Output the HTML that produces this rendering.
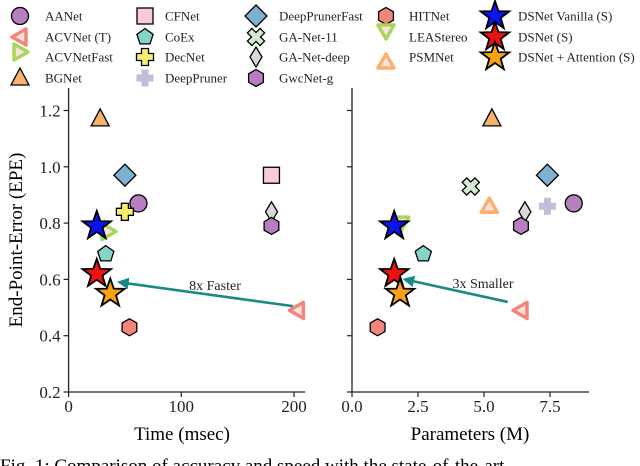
<!DOCTYPE html>
<html><head><meta charset="utf-8"><style>
html,body{margin:0;padding:0;background:#fff;width:640px;height:466px;overflow:hidden}
svg{display:block;font-family:"Liberation Serif","Times New Roman",Times,serif}
svg text{font-family:"Liberation Serif","Times New Roman",Times,serif}
</style></head><body>
<svg id="chart" width="640" height="466" viewBox="0 0 640 466" xmlns="http://www.w3.org/2000/svg">
<defs><marker id="ah" viewBox="0 0 10 10" refX="8" refY="5" markerWidth="4.5" markerHeight="4.5" orient="auto"><path d="M0,0 L10,5 L0,10 z" fill="#1a8a85"/></marker></defs>
<g id="legend"></g>
<g id="left"></g>
<g id="right"></g>
<text x="22" y="240" font-size="19" text-anchor="middle" transform="rotate(-90 22 240)">End-Point-Error (EPE)</text>
<text x="182" y="440" font-size="19" text-anchor="middle">Time (msec)</text>
<text x="470" y="440" font-size="19" text-anchor="middle">Parameters (M)</text>
<text x="0" y="472" font-size="19">Fig. 1: Comparison of accuracy and speed with the state-of-the-art</text>
</svg>
<script>
const models=["AANet","ACVNet (T)","ACVNetFast","BGNet","CFNet","CoEx","DecNet","DeepPruner","DeepPrunerFast","GA-Net-11","GA-Net-deep","GwcNet-g","HITNet","LEAStereo","PSMNet","DSNet Vanilla (S)","DSNet (S)","DSNet + Attention (S)"];
const epe=[0.87,0.49,0.77,1.17,0.97,0.69,0.84,0.86,0.97,0.93,0.84,0.79,0.43,0.80,0.86,0.79,0.62,0.55];
const timeMs=[62,203,35,28,180,33,50,null,50,null,180,180,54,null,null,25,25,37];
const paramsM=[8.4,6.4,null,5.3,null,2.7,null,7.4,7.4,4.5,6.55,6.4,0.97,1.85,5.2,1.6,1.6,1.82];
const yTicks=[0.2,0.4,0.6,0.8,1.0,1.2];
const xTicksTime=[0,100,200];
const xTicksParams=[0.0,2.5,5.0,7.5];
const styles=[
 ["circle","#b77fc0","#000"],["tri-left-hollow","#f4857a",null],["tri-right-hollow","#a8d65a",null],["tri-up","#f7b26b","#000"],
 ["square","#f9c9dd","#000"],["pentagon","#86d3c7","#000"],["plus","#f6ee6c","#000"],["plus","#c2bddb",null],
 ["diamond","#7eb0d4","#000"],["x","#d3ead0","#000"],["thin-diamond","#d9d9d9","#000"],["hexagon","#b77fc0","#000"],
 ["hexagon","#f4857a","#000"],["tri-down-hollow","#a8d65a",null],["tri-up-hollow","#f9b26e",null],
 ["star","#0a14f0","#000"],["star","#f01010","#000"],["star","#f8a412","#000"]];
const NS="http://www.w3.org/2000/svg";
function mk(tag,attrs,parent){const e=document.createElementNS(NS,tag);for(const k in attrs)e.setAttribute(k,attrs[k]);parent.appendChild(e);return e;}
function poly(pts){return pts.map(p=>p[0].toFixed(1)+","+p[1].toFixed(1)).join(" ");}
function regular(cx,cy,r,n,rot){const a=[];for(let i=0;i<n;i++){const t=rot+i*2*Math.PI/n;a.push([cx+r*Math.cos(t),cy+r*Math.sin(t)]);}return a;}
function drawMarker(g,type,fill,stroke,cx,cy){
 const sw=stroke?1.3:0, st=stroke||"none";let e;
 if(type==="circle")e=mk("circle",{cx,cy,r:8.5,fill,stroke:st,"stroke-width":sw},g);
 else if(type==="square")e=mk("rect",{x:cx-8,y:cy-8,width:16,height:16,fill,stroke:st,"stroke-width":sw},g);
 else if(type==="pentagon")e=mk("polygon",{points:poly(regular(cx,cy,8.5,5,-Math.PI/2)),fill,stroke:st,"stroke-width":sw},g);
 else if(type==="hexagon")e=mk("polygon",{points:poly(regular(cx,cy,8.5,6,-Math.PI/2)),fill,stroke:st,"stroke-width":sw},g);
 else if(type==="diamond")e=mk("polygon",{points:poly([[cx,cy-11],[cx+11,cy],[cx,cy+11],[cx-11,cy]]),fill,stroke:st,"stroke-width":sw},g);
 else if(type==="thin-diamond")e=mk("polygon",{points:poly([[cx,cy-10],[cx+6,cy],[cx,cy+10],[cx-6,cy]]),fill,stroke:st,"stroke-width":sw},g);
 else if(type==="tri-up")e=mk("polygon",{points:poly([[cx,cy-10],[cx+9,cy+7],[cx-9,cy+7]]),fill,stroke:st,"stroke-width":sw},g);
 else if(type.startsWith("tri-")&&type.endsWith("hollow")){
  let p;
  if(type==="tri-up-hollow")p=[[cx,cy-8],[cx+8,cy+6],[cx-8,cy+6]];
  else if(type==="tri-down-hollow")p=[[cx,cy+8],[cx+8,cy-6],[cx-8,cy-6]];
  else if(type==="tri-left-hollow")p=[[cx-8,cy],[cx+6,cy-8],[cx+6,cy+8]];
  else p=[[cx+8,cy],[cx-6,cy-8],[cx-6,cy+8]];
  e=mk("polygon",{points:poly(p),fill:"#fbe3dd",stroke:fill,"stroke-width":3.5,"stroke-linejoin":"round"},g);
 }
 else if(type==="plus"){const a=3.5,b=8.5;e=mk("polygon",{points:poly([[cx-a,cy-b],[cx+a,cy-b],[cx+a,cy-a],[cx+b,cy-a],[cx+b,cy+a],[cx+a,cy+a],[cx+a,cy+b],[cx-a,cy+b],[cx-a,cy+a],[cx-b,cy+a],[cx-b,cy-a],[cx-a,cy-a]]),fill,stroke:st,"stroke-width":sw},g);}
 else if(type==="x"){
  const pts=[];for(let i=0;i<4;i++){const t=Math.PI/4+i*Math.PI/2,c=Math.cos(t),s=Math.sin(t),r=9,w=3.2;pts.push([cx+r*c+w*s,cy+r*s-w*c]);pts.push([cx+r*c-w*s,cy+r*s+w*c]);const tn=t+Math.PI/4;pts.push([cx+4.5*Math.cos(tn),cy+4.5*Math.sin(tn)]);}
  e=mk("polygon",{points:poly(pts),fill,stroke:st,"stroke-width":sw},g);}
 else if(type==="star"){const p=[];for(let i=0;i<10;i++){const r=i%2?6:15;const t=-Math.PI/2+i*Math.PI/5;p.push([cx+r*Math.cos(t),cy+r*Math.sin(t)]);}
  e=mk("polygon",{points:poly(p),fill,stroke:"#000","stroke-width":1.8,"stroke-linejoin":"miter"},g);}
 return e;
}
// legend
const leg=document.getElementById("legend");
const colMX=[20,145,256,386,495],colTX=[45,165,279,409,518];
const cols=[[0,1,2,3],[4,5,6,7],[8,9,10,11],[12,13,14],[15,16,17]];
const rowY=[16,37,57,78];
cols.forEach((c,ci)=>c.forEach((mi,ri)=>{
 let my=rowY[ri],ty=rowY[ri];
 if(mi===13){my=31;ty=37;} if(mi===14){my=62;ty=57;} if(mi===2){my=52;}
 const g=mk("g",{},leg);
 
 
 drawMarker(g,styles[mi][0],styles[mi][1],styles[mi][2],colMX[ci],my);
 const t=mk("text",{x:colTX[ci],y:ty+4.5,"font-size":"13",fill:"#222"},g);
 t.textContent=models[mi];
}));
// axes
const Y0=392,YS=281.5;
function yPix(v){return Y0-(v-0.2)*YS;}
function setup(gid,x0,xs,xmax,ticks,fmt,labelsY,arrowFrom,arrowTo,txt,txtPos,vals){
 const g=document.getElementById(gid);
 const xPix=v=>x0+v*xs;
 const ax=mk("g",{},g);
 
 
 mk("line",{x1:x0,y1:88,x2:x0,y2:Y0,stroke:"#222","stroke-width":1.3},ax);
 mk("line",{x1:x0-1,y1:Y0,x2:xmax,y2:Y0,stroke:"#222","stroke-width":1.3},ax);
 yTicks.forEach(v=>{const y=yPix(v);mk("line",{x1:x0-5,y1:y,x2:x0,y2:y,stroke:"#222","stroke-width":1.2},ax);
  if(labelsY){const t=mk("text",{x:x0-8,y:y+6,"font-size":"17","text-anchor":"end",fill:"#222"},ax);t.textContent=v.toFixed(1);}});
 ticks.forEach(v=>{const x=xPix(v);mk("line",{x1:x,y1:Y0,x2:x,y2:Y0+5,stroke:"#222","stroke-width":1.2},ax);
  const t=mk("text",{x:x,y:Y0+20,"font-size":"17","text-anchor":"middle",fill:"#222"},ax);t.textContent=fmt(v);});
 const pg=mk("g",{},g);
 
 
 models.forEach((m,i)=>{if(vals[i]==null)return;const s=styles[i];
  const e=drawMarker(pg,s[0],s[1],s[2],xPix(vals[i]),yPix(epe[i]));
  
  });
 const ar=mk("line",{x1:xPix(arrowFrom[0]),y1:yPix(arrowFrom[1]),x2:xPix(arrowTo[0]),y2:yPix(arrowTo[1]),stroke:"#1a8a85","stroke-width":2.6,"marker-end":"url(#ah)"},g);
 
 
 const t=mk("text",{x:txtPos[0],y:txtPos[1],"font-size":"14","text-anchor":"middle",fill:"#222"},g);
 
 
 t.textContent=txt;
}
setup("left",68.6,1.127,305,xTicksTime,v=>String(v),true,[199,0.505],[45,0.59],"8x Faster",[215,290],timeMs);
setup("right",352,26.4,589,xTicksParams,v=>v.toFixed(1),false,[5.9,0.52],[2.0,0.6],"3x Smaller",[483,288],paramsM);
</script>
</body></html>
